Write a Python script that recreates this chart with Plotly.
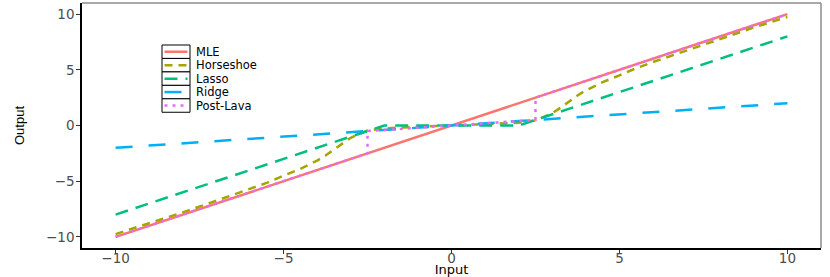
import plotly.graph_objects as go

# ---------------- data ----------------
series_names = ["MLE", "Horseshoe", "Lasso", "Ridge", "Post-Lava"]

mle_x = [-10, 10]
mle_y = [-10, 10]

horseshoe_x = [-10, -9, -8, -7, -6, -5.5, -5, -4.5, -4, -3.75, -3.5, -3.25, -3, -2.75, -2.5,
               -2, -1.5, -1, -0.5, 0, 0.5, 1, 1.5, 2, 2.5, 2.75, 3, 3.25, 3.5, 3.75, 4,
               4.5, 5, 5.5, 6, 7, 8, 9, 10]
horseshoe_y = [-9.75, -8.8, -7.8, -6.75, -5.7, -5.15, -4.5, -3.9, -3.15, -2.7, -2.15, -1.6, -1.1, -0.75, -0.45,
               -0.25, -0.17, -0.1, -0.05, 0, 0.05, 0.1, 0.17, 0.25, 0.45, 0.75, 1.1, 1.6, 2.15, 2.7, 3.15,
               3.9, 4.5, 5.15, 5.7, 6.75, 7.8, 8.8, 9.75]

lasso_x = [-10, -2, 2, 10]
lasso_y = [-8, 0, 0, 8]

ridge_x = [-10, 10]
ridge_y = [-2, 2]

postlava_x = [-10, -2.5, -2.5, 2.5, 2.5, 10]
postlava_y = [-10, -2.5, -0.5, 0.5, 2.5, 10]

tick_vals = [-10, -5, 0, 5, 10]
tick_text = ["\u221210", "\u22125", "0", "5", "10"]

# ---------------- styles ----------------
colors = ["#F8766D", "#A3A500", "#00BF7D", "#00B0F6", "#E76BF3"]
dashes = ["solid", "8px,6px", "13px,8px", "17px,16px", "3px,5px"]
xs = [mle_x, horseshoe_x, lasso_x, ridge_x, postlava_x]
ys = [mle_y, horseshoe_y, lasso_y, ridge_y, postlava_y]

W, H = 830, 277
L, R, T, B = 82, 9, 3, 29
PW, PH = W - L - R, H - T - B


def px_x(p):
    return (p - L) / PW


def px_y(p):
    return 1 - (p - T) / PH


fig = go.Figure()
for name, x, y, c, d in zip(series_names, xs, ys, colors, dashes):
    fig.add_trace(go.Scatter(x=x, y=y, mode="lines", name=name, showlegend=False,
                             line=dict(color=c, width=2.5, dash=d)))

# ---------------- legend (boxed keys like ggplot) ----------------
shapes = []
annotations = []
leg_left, leg_right, leg_top, row_h = 162, 190, 45, 13.45
for i, (name, c, d) in enumerate(zip(series_names, colors, dashes)):
    top = leg_top + i * row_h
    bot = top + row_h
    mid = (top + bot) / 2
    shapes.append(dict(type="rect", xref="paper", yref="paper",
                       x0=px_x(leg_left), x1=px_x(leg_right), y0=px_y(bot), y1=px_y(top),
                       line=dict(color="black", width=1), fillcolor="white", layer="above"))
    shapes.append(dict(type="line", xref="paper", yref="paper",
                       x0=px_x(leg_left + 2.5), x1=px_x(leg_right - 2.5), y0=px_y(mid), y1=px_y(mid),
                       line=dict(color=c, width=2.5, dash=d), layer="above"))
    annotations.append(dict(text=name, xref="paper", yref="paper", x=px_x(195), y=px_y(mid),
                            xanchor="left", yanchor="middle", showarrow=False, borderpad=0,
                            font=dict(family="DejaVu Sans", size=11.5, color="black")))

# panel border (top/right gray)
shapes.append(dict(type="line", xref="paper", yref="paper", x0=0, x1=1, y0=1, y1=1,
                   line=dict(color="#8C8C8C", width=1.5), layer="below"))
shapes.append(dict(type="line", xref="paper", yref="paper", x0=1, x1=1, y0=0, y1=1,
                   line=dict(color="#8C8C8C", width=1.5), layer="below"))

axis_common = dict(range=[-11, 11], tickvals=tick_vals, ticktext=tick_text, showgrid=False,
                   zeroline=False, showline=True, linecolor="black", linewidth=1.5,
                   ticks="outside", ticklen=4, tickwidth=1, tickcolor="#333333",
                   tickfont=dict(family="DejaVu Sans", size=13.5, color="#4D4D4D"))

fig.update_layout(
    width=W, height=H,
    margin=dict(l=L, r=R, t=T, b=B, autoexpand=False),
    paper_bgcolor="white", plot_bgcolor="white",
    xaxis=dict(**axis_common, ticklabelstandoff=-7,
               title=dict(text="Input", standoff=0,
                          font=dict(family="DejaVu Sans", size=13, color="black"))),
    yaxis=dict(**axis_common, ticklabelstandoff=-1,
               title=dict(text="Output", standoff=18,
                          font=dict(family="Liberation Sans", size=13, color="black"))),
    shapes=shapes, annotations=annotations,
)

fig.write_html("out.html", config={"displayModeBar": False},
               post_script="document.body.style.margin='0px';")
